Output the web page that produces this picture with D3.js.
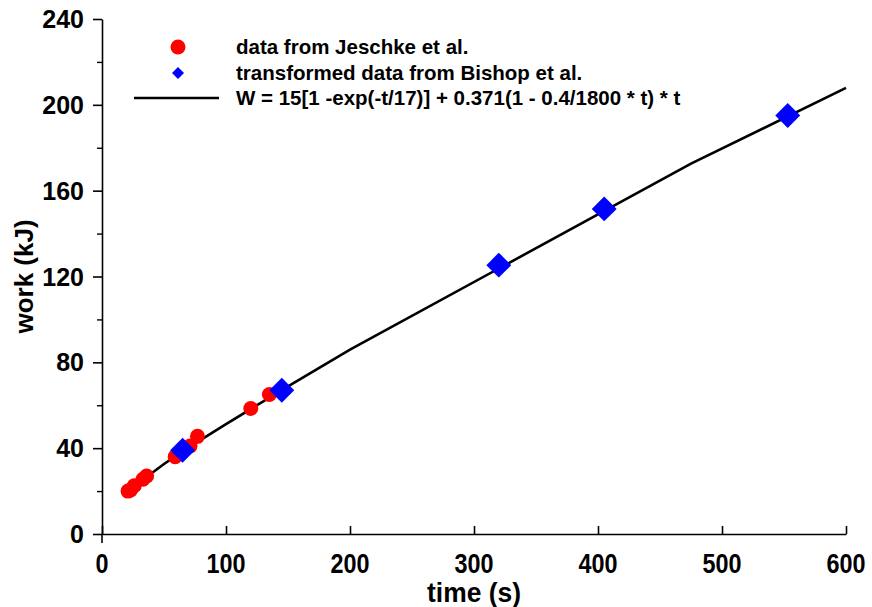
<!DOCTYPE html>
<html><head><meta charset="utf-8">
<script src="https://cdn.jsdelivr.net/npm/d3@7"></script>
<style>html,body{margin:0;padding:0;background:#fff}svg{display:block}</style>
</head><body>
<svg id="chart" width="872" height="607"></svg>
<script>
// Data
const jeschkeTime = [21, 23, 26, 33, 36, 59, 71, 77, 120, 135];
const jeschkeWork = [20, 20.5, 22.5, 25.5, 27, 36, 41, 45.5, 58.5, 65];
const bishopTime = [65, 145, 320, 405, 553];
const bishopWork = [39, 67, 125.3, 151.5, 195];
const fitTime = [20, 30, 40, 50, 60, 80, 100, 150, 200, 475, 600];
const fitWork = [17.8, 23.5, 28.3, 32.6, 36.5, 44.0, 51.2, 68.8, 85.9, 172.6, 207.9];
const xTicks = [0, 100, 200, 300, 400, 500, 600];
const yTicks = [0, 40, 80, 120, 160, 200, 240];
const yMinorTicks = [20, 60, 100, 140, 180, 220];
const legendLabels = ["data from Jeschke et al.", "transformed data from Bishop et al.",
  "W = 15[1 -exp(-t/17)] + 0.371(1 - 0.4/1800 * t) * t"];
const xTitle = "time (s)", yTitle = "work (kJ)";

const svg = d3.select("#chart");
const m = {l: 102, t: 19, r: 26, b: 73};
const W = 872, H = 607;
const x = d3.scaleLinear().domain([0, 600]).range([m.l, W - m.r]);
const y = d3.scaleLinear().domain([0, 240]).range([H - m.b, m.t]);
const font = "'Liberation Sans', Arial, sans-serif";

// axes
const gx = svg.append("g").attr("transform", `translate(0,${y(0)})`)
  .call(d3.axisBottom(x).tickValues(xTicks).tickSizeInner(-8).tickSizeOuter(0).tickFormat(""));
gx.selectAll("path,line").attr("stroke", "#000").attr("stroke-width", 1.6);
const gy = svg.append("g").attr("transform", `translate(${x(0)},0)`)
  .call(d3.axisLeft(y).tickValues(yTicks).tickSize(9).tickSizeOuter(0).tickFormat(""));
gy.selectAll("path,line").attr("stroke", "#000").attr("stroke-width", 1.6);
const gym = svg.append("g").attr("transform", `translate(${x(0)},0)`)
  .call(d3.axisLeft(y).tickValues(yMinorTicks).tickSize(5).tickFormat(""));
gym.select("path").remove();
gym.selectAll("line").attr("stroke", "#000").attr("stroke-width", 1.4);
// small extension of y axis below origin
svg.append("line").attr("x1", x(0)).attr("x2", x(0)).attr("y1", y(0)).attr("y2", y(0) + 9)
  .attr("stroke", "#000").attr("stroke-width", 1.6);

// tick labels
svg.append("g").selectAll("text").data(xTicks).join("text")
  .attr("x", d => x(d)).attr("y", 573).attr("text-anchor", "middle")
  .attr("font-family", font).attr("font-weight", "bold").attr("font-size", 28)
  .attr("textLength", d => String(d).length * 13).attr("lengthAdjust", "spacingAndGlyphs")
  .text(d => d);
svg.append("g").selectAll("text").data(yTicks).join("text")
  .attr("x", 84).attr("y", d => y(d)).attr("dy", "0.36em").attr("text-anchor", "end")
  .attr("font-family", font).attr("font-weight", "bold").attr("font-size", 25)
  .text(d => d);

// axis titles
svg.append("text").attr("x", (x(0) + x(600)) / 2).attr("y", 602).attr("text-anchor", "middle")
  .attr("font-family", font).attr("font-weight", "bold").attr("font-size", 27)
  .attr("textLength", 94).attr("lengthAdjust", "spacingAndGlyphs").text(xTitle);
svg.append("text").attr("transform", `translate(33,${(y(0) + y(240)) / 2}) rotate(-90)`)
  .attr("text-anchor", "middle").attr("font-family", font).attr("font-weight", "bold")
  .attr("font-size", 26).text(yTitle);

// fit line
const fit = fitTime.map((t, i) => [t, fitWork[i]]);
svg.append("path").datum(fit)
  .attr("d", d3.line().x(d => x(d[0])).y(d => y(d[1])))
  .attr("fill", "none").attr("stroke", "#000").attr("stroke-width", 2.6);

// red circles
const jd = jeschkeTime.map((t, i) => [t, jeschkeWork[i]]);
svg.append("g").selectAll("circle").data(jd).join("circle")
  .attr("cx", d => x(d[0])).attr("cy", d => y(d[1])).attr("r", 7.5).attr("fill", "#ff0000");

// blue diamonds
const diamond = d3.symbol().type(d3.symbolSquare).size(310);
const bd = bishopTime.map((t, i) => [t, bishopWork[i]]);
svg.append("g").selectAll("path").data(bd).join("path")
  .attr("d", diamond)
  .attr("transform", d => `translate(${x(d[0])},${y(d[1])}) rotate(45)`)
  .attr("fill", "#0000ff");

// legend
const lg = svg.append("g");
const rows = [47, 73, 98];
lg.append("circle").attr("cx", 178).attr("cy", rows[0]).attr("r", 7.5).attr("fill", "#ff0000");
lg.append("path").attr("d", d3.symbol().type(d3.symbolSquare).size(72))
  .attr("transform", `translate(178,${rows[1]}) rotate(45)`).attr("fill", "#0000ff");
lg.append("line").attr("x1", 134).attr("x2", 219).attr("y1", rows[2]).attr("y2", rows[2])
  .attr("stroke", "#000").attr("stroke-width", 2.6);
lg.selectAll("text").data(legendLabels).join("text")
  .attr("x", 236).attr("y", (d, i) => rows[i]).attr("dy", "0.36em")
  .attr("font-family", font).attr("font-weight", "bold").attr("font-size", 20.5)
  .text(d => d);
</script>
</body></html>
